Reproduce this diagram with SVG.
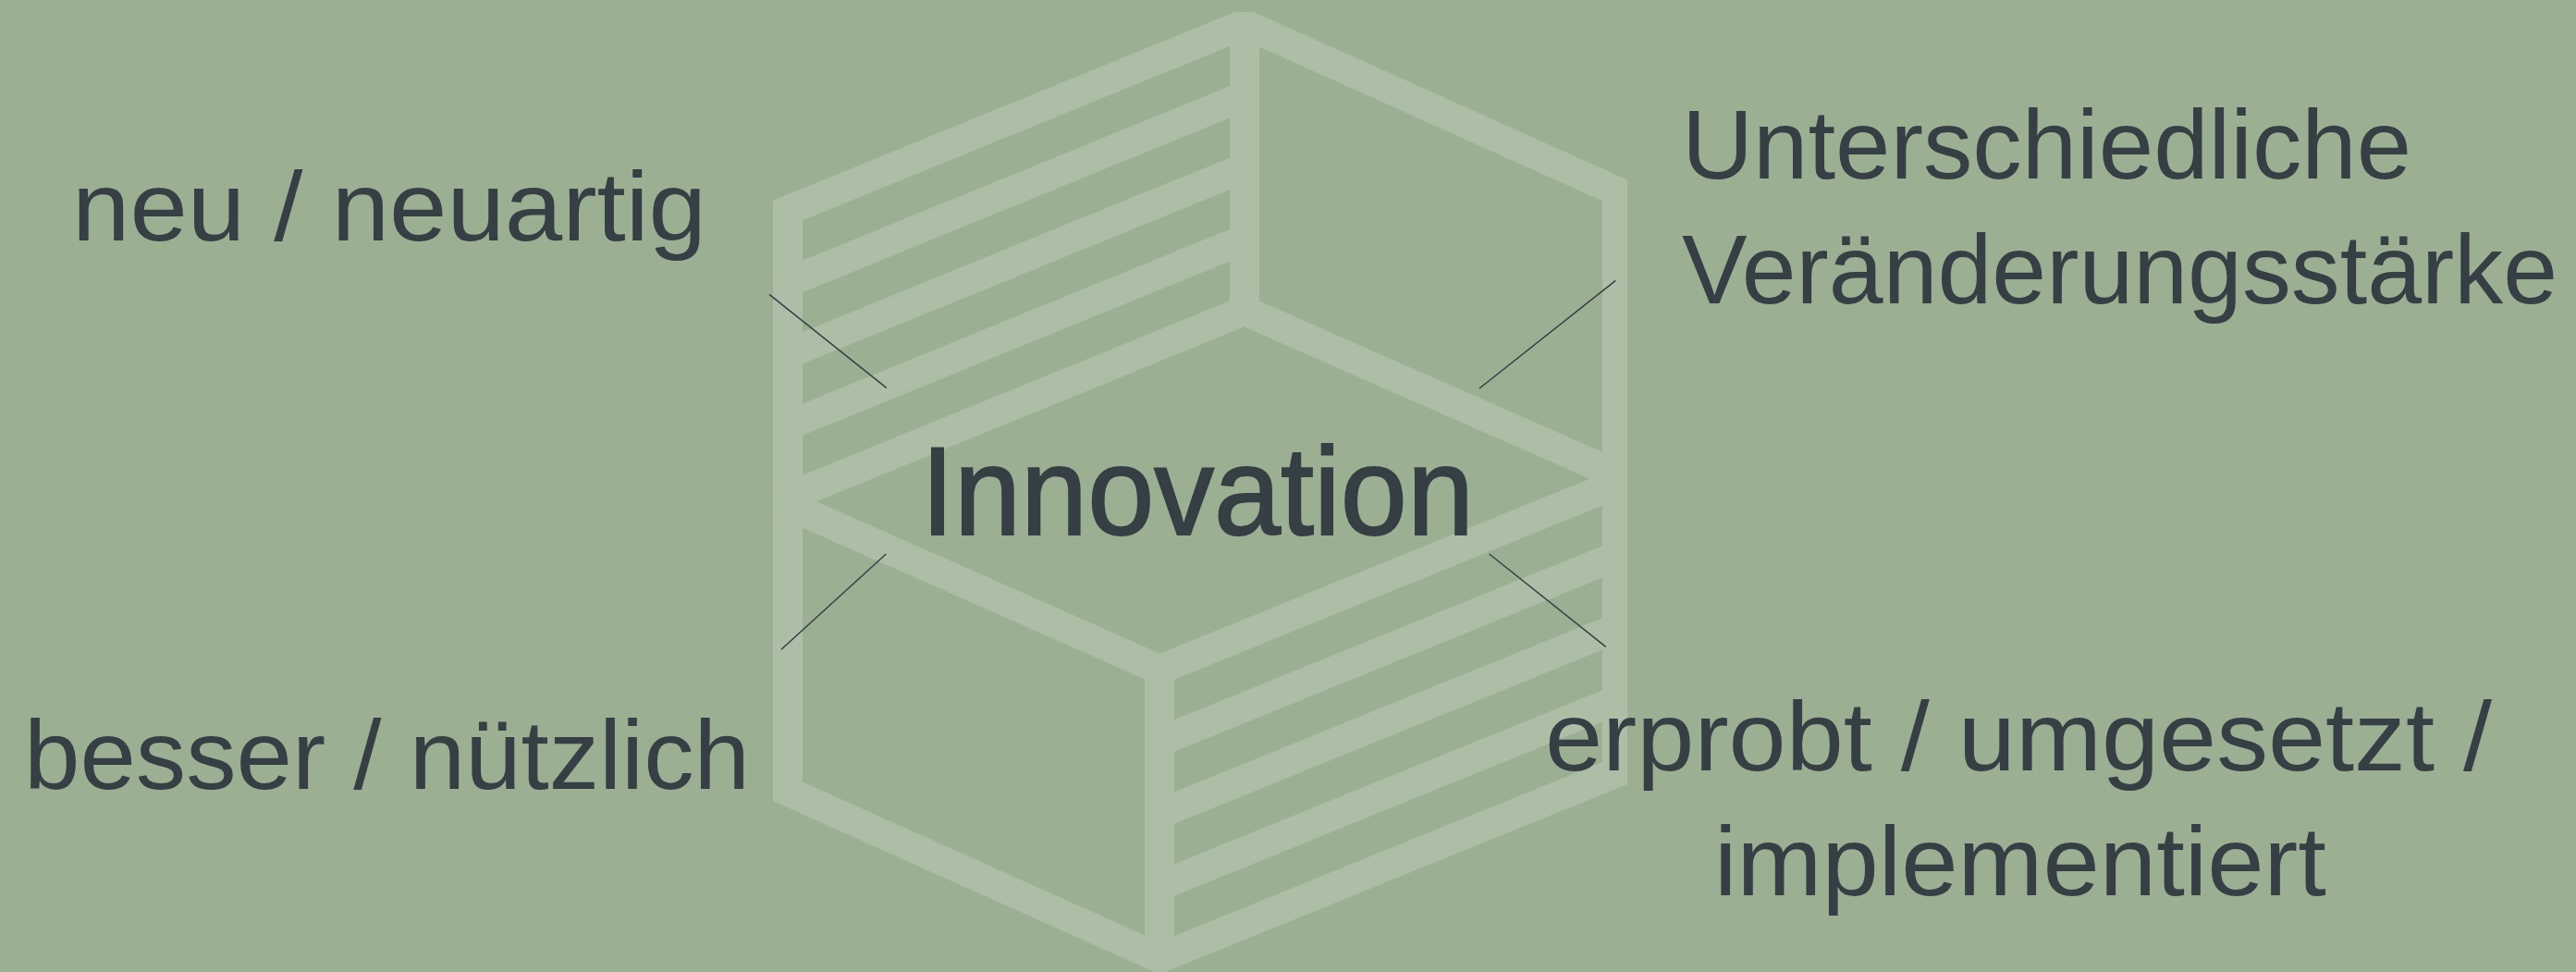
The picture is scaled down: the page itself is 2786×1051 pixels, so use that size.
<svg xmlns="http://www.w3.org/2000/svg" width="2786" height="1051" viewBox="0 0 2786 1051">
  <style>
    .frame { fill: #adbea7; fill-rule: evenodd; }
    .bar { fill: none; stroke: #adbea7; stroke-width: 32; stroke-linecap: butt; stroke-linejoin: miter; }
    .leader { fill: none; stroke: #353f44; stroke-width: 1.5; }
    .lbl { font-family: "Liberation Sans", Arial, sans-serif; font-size: 106px; fill: #353f44; }
    .title { font-family: "Liberation Sans", Arial, sans-serif; font-size: 135px; fill: #353f44; stroke: #353f44; stroke-width: 2; }
  </style>
  <rect x="0" y="0" width="2786" height="1051" fill="#9baf93"/>

  <g id="cube">
    <path class="frame" d="M1335.5,13 L1356,13 L1760,194.4 L1760,848 L1254,1053.5 L836,866 L836,216.8 Z M1346,43.4 L1733,217.3 L1733,824 L1254,1018.5 L868,845.4 L868,238.3 Z"/>
    <line class="bar" x1="1346" y1="30" x2="1346" y2="336"/>
    <path class="bar" d="M852,537.6 L1346,336 L1746.5,512.2"/>
    <path class="bar" d="M852,546 L1254,724 L1746.5,524"/>
    <line class="bar" x1="1254" y1="724" x2="1254" y2="1030"/>
    <g id="stripes-top-left">
      <line class="bar" x1="852" y1="305.4" x2="1346" y2="103.8"/>
      <line class="bar" x1="852" y1="382.8" x2="1346" y2="181.2"/>
      <line class="bar" x1="852" y1="460.2" x2="1346" y2="258.6"/>
    </g>
    <g id="stripes-bottom-right">
      <line class="bar" x1="1254" y1="802" x2="1746.5" y2="602"/>
      <line class="bar" x1="1254" y1="880" x2="1746.5" y2="680"/>
      <line class="bar" x1="1254" y1="958" x2="1746.5" y2="758"/>
    </g>
  </g>

  <g id="connectors">
    <line class="leader" x1="832" y1="318.3" x2="958.7" y2="419.3"/>
    <line class="leader" x1="1747.3" y1="303.3" x2="1600" y2="420" stroke-width="1"/>
    <line class="leader" x1="958.3" y1="599" x2="845" y2="702.3"/>
    <line class="leader" x1="1610.7" y1="599" x2="1736.7" y2="699.3" stroke-width="1"/>
  </g>

  <g id="node-innovation">
    <text class="title" x="996" y="578" textLength="598" lengthAdjust="spacingAndGlyphs">Innovation</text>
  </g>
  <g id="node-neu">
    <text class="lbl" x="78" y="260" textLength="686" lengthAdjust="spacingAndGlyphs">neu / neuartig</text>
  </g>
  <g id="node-veraenderung">
    <text class="lbl" x="1819" y="193" textLength="789" lengthAdjust="spacingAndGlyphs">Unterschiedliche</text>
    <text class="lbl" x="1819" y="328" textLength="947" lengthAdjust="spacingAndGlyphs">Veränderungsstärke</text>
  </g>
  <g id="node-besser">
    <text class="lbl" x="26" y="853" textLength="785" lengthAdjust="spacingAndGlyphs">besser / nützlich</text>
  </g>
  <g id="node-erprobt">
    <text class="lbl" x="1671" y="833" textLength="1024" lengthAdjust="spacingAndGlyphs">erprobt / umgesetzt /</text>
    <text class="lbl" x="1854" y="968" textLength="662" lengthAdjust="spacingAndGlyphs">implementiert</text>
  </g>
</svg>
